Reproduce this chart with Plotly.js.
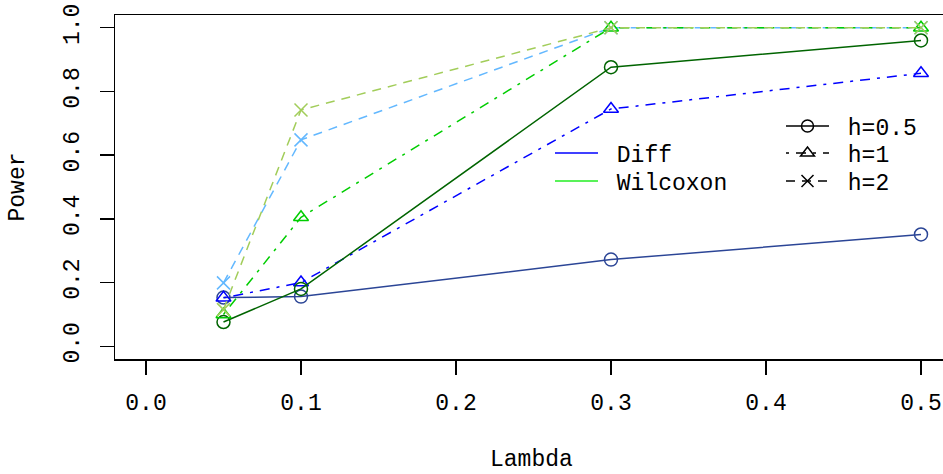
<!DOCTYPE html>
<html>
<head>
<meta charset="utf-8">
<script src="https://cdn.plot.ly/plotly-3.0.1.min.js"></script>
<style>
  html, body { margin: 0; padding: 0; background: #ffffff; overflow: hidden; }
  #chart { width: 952px; height: 474px; }
</style>
</head>
<body>
<div id="chart"></div>
<script>
// Power of the two tests against the shift parameter lambda, for three bandwidths h
const lambda = [0.05, 0.1, 0.3, 0.5];

const diffH05 = [0.153, 0.156, 0.272, 0.351];
const diffH1  = [0.152, 0.200, 0.745, 0.857];
const diffH2  = [0.199, 0.648, 1.000, 1.000];

const wilcoxH05 = [0.076, 0.180, 0.876, 0.960];
const wilcoxH1  = [0.100, 0.405, 1.000, 1.000];
const wilcoxH2  = [0.115, 0.742, 1.000, 1.000];

const xTicks = [0, 0.1, 0.2, 0.3, 0.4, 0.5];
const yTicks = [0, 0.2, 0.4, 0.6, 0.8, 1.0];

const FONT = '"Liberation Mono", "DejaVu Sans Mono", monospace';
const FS = 23;
const DASHDOT = '3px,7px,10px,7px';
const DASHED = '9px,7px';

function series(y, color, symbol, dash) {
  return {
    x: lambda, y: y, type: 'scatter', mode: 'lines+markers',
    showlegend: false, hoverinfo: 'skip',
    line: { color: color, width: 1.5, dash: dash },
    marker: { symbol: symbol, size: 13, color: color,
              line: { color: color, width: 1.5 } }
  };
}

// Legend-only entries (no points in range); one legend box per row
function key(name, legend, color, symbol, dash) {
  const t = {
    x: [null], y: [null], type: 'scatter',
    mode: symbol ? 'lines+markers' : 'lines',
    name: ' ' + name, legend: legend, showlegend: true, hoverinfo: 'skip',
    line: { color: color, width: 1.5, dash: dash || 'solid' }
  };
  if (symbol) {
    t.marker = { symbol: symbol, size: 12, color: color,
                 line: { color: color, width: 1.5 } };
  }
  return t;
}

const traces = [
  series(diffH05, '#2B4596', 'circle-open', 'solid'),
  series(diffH1,  '#0000FF', 'triangle-up-open', DASHDOT),
  series(diffH2,  '#63B8FF', 'x-thin-open', DASHED),
  series(wilcoxH05, '#006400', 'circle-open', 'solid'),
  series(wilcoxH1,  '#00CD00', 'triangle-up-open', DASHDOT),
  series(wilcoxH2,  '#A2CD5A', 'x-thin-open', DASHED),
  key('Diff', 'legend', '#0000FF'),
  key('Wilcoxon', 'legend2', '#22EE22'),
  key('h=0.5', 'legend3', '#000000', 'circle-open', 'solid'),
  key('h=1', 'legend4', '#000000', 'triangle-up-open', DASHDOT),
  key('h=2', 'legend5', '#000000', 'x-thin-open', DASHED)
];

const axisCommon = {
  showgrid: false, zeroline: false,
  showline: true, mirror: true, linecolor: '#000000', linewidth: 1.5,
  ticks: 'outside', ticklen: 14, tickwidth: 1.5, tickcolor: '#000000',
  tickfont: { family: FONT, size: FS, color: '#000000' },
  tickformat: '.1f'
};

function legendAt(x, y) {
  return {
    bgcolor: 'rgba(0,0,0,0)', borderwidth: 0,
    font: { family: FONT, size: FS, color: '#000000' },
    itemwidth: 43,
    xanchor: 'left', yanchor: 'middle', x: x, y: y
  };
}

const layout = {
  width: 952, height: 474,
  margin: { l: 115, r: 0, t: 15, b: 115 },
  paper_bgcolor: '#ffffff', plot_bgcolor: '#ffffff',
  showlegend: true,
  xaxis: Object.assign({}, axisCommon, {
    range: [-0.02, 0.52], tickvals: xTicks, ticklabelstandoff: 8
  }),
  yaxis: Object.assign({}, axisCommon, {
    range: [-0.04, 1.04], tickvals: yTicks, tickangle: -90, ticklabelstandoff: 11
  }),
  legend:  legendAt(0.5197, 0.5988),
  legend2: legendAt(0.5197, 0.5174),
  legend3: legendAt(0.7957, 0.6773),
  legend4: legendAt(0.7957, 0.5988),
  legend5: legendAt(0.7957, 0.5174),
  annotations: [
    { text: 'Lambda', xref: 'paper', yref: 'paper', x: 0.498, y: -0.2936,
      xanchor: 'center', yanchor: 'middle', showarrow: false,
      font: { family: FONT, size: FS, color: '#000000' } },
    { text: 'Power', xref: 'paper', yref: 'paper', x: -0.1153, y: 0.5,
      xanchor: 'center', yanchor: 'middle', showarrow: false, textangle: -90,
      font: { family: FONT, size: FS, color: '#000000' } }
  ]
};

Plotly.newPlot('chart', traces, layout, { displayModeBar: false, staticPlot: true });
</script>
</body>
</html>
